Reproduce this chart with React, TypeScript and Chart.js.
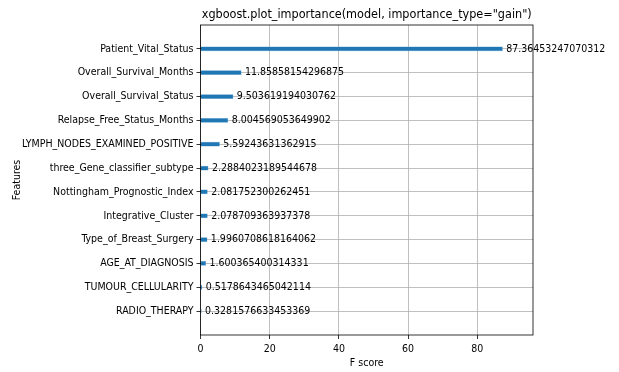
import React, { useEffect, useRef } from "react";
import { Chart, registerables } from "chart.js";

Chart.register(...registerables);

// Features listed from bottom (y=0) to top (y=11), like matplotlib barh
const features = [
  "RADIO_THERAPY",
  "TUMOUR_CELLULARITY",
  "AGE_AT_DIAGNOSIS",
  "Type_of_Breast_Surgery",
  "Integrative_Cluster",
  "Nottingham_Prognostic_Index",
  "three_Gene_classifier_subtype",
  "LYMPH_NODES_EXAMINED_POSITIVE",
  "Relapse_Free_Status_Months",
  "Overall_Survival_Status",
  "Overall_Survival_Months",
  "Patient_Vital_Status",
];

const gainValues = [
  0.3281576633453369,
  0.5178643465042114,
  1.600365400314331,
  1.9960708618164062,
  2.078709363937378,
  2.081752300262451,
  2.2884023189544678,
  5.59243631362915,
  8.004569053649902,
  9.503619194030762,
  11.85858154296875,
  87.36453247070312,
];

const xTicks = [0, 20, 40, 60, 80];
const xMax = 96.1;
const yMin = -1;
const yMax = 12;

const titleText = 'xgboost.plot_importance(model, importance_type="gain")';
const xTitle = "F score";
const yTitle = "Features";

const FONT = "'DejaVu Sans Condensed', 'DejaVu Sans', sans-serif";

export default function App() {
  const ref = useRef<HTMLCanvasElement | null>(null);

  useEffect(() => {
    document.body.style.margin = "0";
    const canvas = ref.current;
    if (!canvas) return;

    const overlay = {
      id: "mplOverlay",
      afterDatasetsDraw(chart: any) {
        const { ctx, chartArea, scales } = chart;
        const xs = scales.x;
        const ys = scales.y;
        ctx.save();
        // value labels
        ctx.fillStyle = "#000";
        ctx.font = `10.5px ${FONT}`;
        ctx.textAlign = "left";
        ctx.textBaseline = "middle";
        gainValues.forEach((v, i) => {
          ctx.fillText(String(v), xs.getPixelForValue(v + 1), ys.getPixelForValue(i));
        });
        // spines
        ctx.strokeStyle = "#000";
        ctx.lineWidth = 0.8;
        ctx.strokeRect(
          chartArea.left,
          chartArea.top,
          chartArea.right - chartArea.left,
          chartArea.bottom - chartArea.top
        );
        // title
        const cx = (chartArea.left + chartArea.right) / 2;
        ctx.font = `12.5px ${FONT}`;
        ctx.textAlign = "center";
        ctx.textBaseline = "alphabetic";
        ctx.fillText(titleText, cx, 18);
        // x title
        ctx.font = `10.5px ${FONT}`;
        ctx.textBaseline = "middle";
        ctx.fillText(xTitle, cx, 363);
        // y title
        ctx.translate(17, (chartArea.top + chartArea.bottom) / 2);
        ctx.rotate(-Math.PI / 2);
        ctx.fillText(yTitle, 0, 0);
        ctx.restore();
      },
    };

    const chart = new Chart(canvas, {
      type: "bar",
      data: {
        datasets: [
          {
            data: gainValues.map((v, i) => ({ x: v, y: i })),
            backgroundColor: "#1f77b4",
            borderColor: "#5a9bd0",
            borderWidth: 0.5,
            barPercentage: 0.2,
            categoryPercentage: 1,
          },
        ],
      },
      options: {
        indexAxis: "y",
        animation: false,
        responsive: false,
        maintainAspectRatio: false,
        layout: { padding: { left: 0, right: 86, top: 25, bottom: 0 } },
        plugins: {
          legend: { display: false },
          title: { display: false },
          tooltip: { enabled: false },
        },
        scales: {
          x: {
            type: "linear",
            min: 0,
            max: xMax,
            afterBuildTicks(scale: any) {
              scale.ticks = xTicks.map((v) => ({ value: v }));
            },
            afterFit(scale: any) {
              scale.height = 372 - 335;
            },
            grid: {
              color: "#b0b0b0",
              lineWidth: 0.8,
              tickLength: 4,
              tickColor: "#000",
              tickWidth: 0.8,
            },
            border: { display: false },
            ticks: {
              color: "#000",
              font: { family: FONT, size: 10.5 },
              padding: 4,
              maxRotation: 0,
              autoSkip: false,
            },
          },
          y: {
            type: "linear",
            min: yMin,
            max: yMax,
            offset: false,
            afterBuildTicks(scale: any) {
              scale.ticks = features.map((_, i) => ({ value: i }));
            },
            afterFit(scale: any) {
              scale.width = 200.5;
            },
            grid: {
              offset: false,
              color: "#b0b0b0",
              lineWidth: 0.8,
              tickLength: 4,
              tickColor: "#000",
              tickWidth: 0.8,
            },
            border: { display: false },
            ticks: {
              color: "#000",
              font: { family: FONT, size: 10.5 },
              padding: 3,
              autoSkip: false,
              callback: (v: any) => features[Number(v)] ?? "",
            },
          },
        },
      },
      plugins: [overlay],
    } as any);

    return () => chart.destroy();
  }, []);

  return (
    <div style={{ position: "absolute", left: 0, top: 0, width: 619, height: 372 }}>
      <canvas ref={ref} width={619} height={372} style={{ width: 619, height: 372 }} />
    </div>
  );
}
